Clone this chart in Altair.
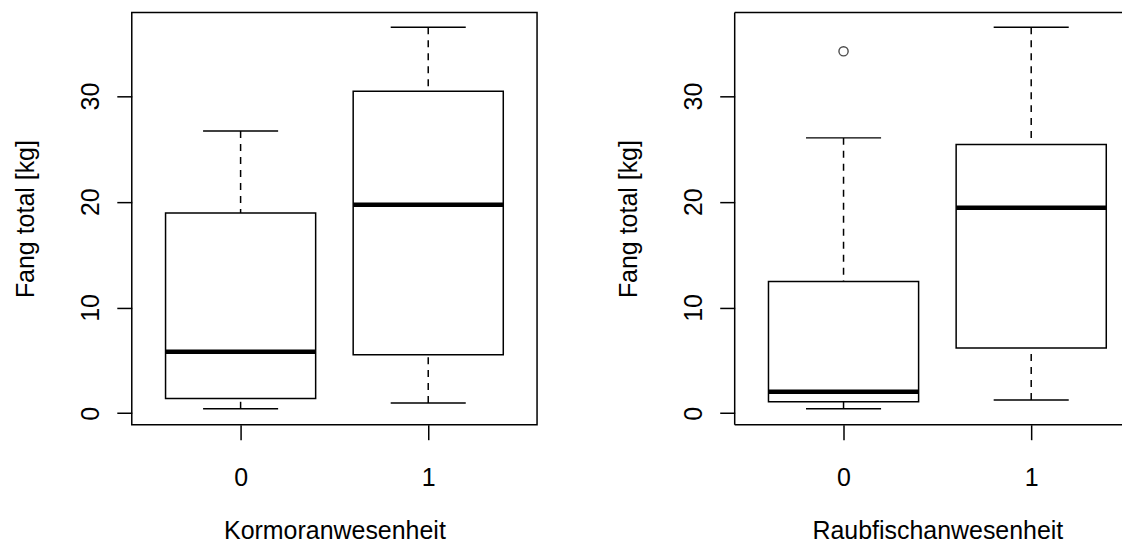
import altair as alt
import pandas as pd

# ---- data ----
groups = ["0", "1"]
y_ticks = [0, 10, 20, 30]

k_title = "Kormoranwesenheit"
k_low = [0.42, 0.96]
k_q1 = [1.40, 5.52]
k_med = [5.81, 19.72]
k_q3 = [18.93, 30.45]
k_high = [26.68, 36.50]
k_out_group = []
k_out_value = []

r_title = "Raubfischanwesenheit"
r_low = [0.42, 1.25]
r_q1 = [1.09, 6.16]
r_med = [2.03, 19.43]
r_q3 = [12.46, 25.42]
r_high = [26.04, 36.50]
r_out_group = ["0"]
r_out_value = [34.23]

y_label = "Fang total [kg]"

FONT = "Liberation Sans"
FS = 25
LW = 1.5
H = 413
pos = [i + 1 for i in range(len(groups))]
label_expr = " : ".join(
    f"datum.value == {p} ? '{g}'" for p, g in zip(pos, groups)
) + " : ''"


def panel(title, low, q1, med, q3, high, out_g, out_v, width, xmax, full_frame):
    df = pd.DataFrame({
        "pos": pos, "low": low, "q1": q1, "med": med, "q3": q3, "high": high,
    })
    df["left"] = df["pos"] - 0.4
    df["right"] = df["pos"] + 0.4
    df["cl"] = df["pos"] - 0.2
    df["cr"] = df["pos"] + 0.2

    xs = alt.Scale(domain=[0.42, xmax], nice=False, zero=False)
    ys = alt.Scale(domain=[-1.09, 37.9], nice=False, zero=False)
    xa = alt.Axis(values=pos, labelExpr=label_expr, title=title, tickSize=15,
                  labelAngle=0, labelBaseline="alphabetic", labelPadding=45.7,
                  titleBaseline="alphabetic", titleY=114, titleX=203,
                  titleAlign="center", grid=False, domain=False,
                  labelFont=FONT, titleFont=FONT, labelFontSize=FS,
                  titleFontSize=FS, titleFontWeight="normal",
                  labelColor="black", titleColor="black", tickColor="black",
                  tickWidth=LW)
    ya = alt.Axis(values=y_ticks, title=y_label, tickSize=15, labelAngle=270,
                  labelAlign="center", labelBaseline="alphabetic", labelPadding=18,
                  titleAngle=270, titleAlign="center", titleBaseline="alphabetic",
                  titleX=-98, titleY=206.5, grid=False, domain=False,
                  labelFont=FONT, titleFont=FONT, labelFontSize=FS,
                  titleFontSize=FS, titleFontWeight="normal",
                  labelColor="black", titleColor="black", tickColor="black",
                  tickWidth=LW)

    def X(f):
        return alt.X(f"{f}:Q", scale=xs, axis=xa)

    def Y(f):
        return alt.Y(f"{f}:Q", scale=ys, axis=ya)

    base = alt.Chart(df)
    wh = base.mark_rule(strokeDash=[7, 6], strokeWidth=LW, color="black").encode(
        x=X("pos"), y=Y("high"), y2="q3")
    wl = base.mark_rule(strokeDash=[7, 6], strokeWidth=LW, color="black").encode(
        x=X("pos"), y=Y("low"), y2="q1")
    ch = base.mark_rule(strokeWidth=LW, color="black").encode(
        x=X("cl"), x2="cr", y=Y("high"))
    cl = base.mark_rule(strokeWidth=LW, color="black").encode(
        x=X("cl"), x2="cr", y=Y("low"))
    box = base.mark_rect(fill="white", stroke="black", strokeWidth=LW).encode(
        x=X("left"), x2="right", y=Y("q1"), y2="q3")
    md = base.mark_rule(strokeWidth=4.5, color="black").encode(
        x=X("left"), x2="right", y=Y("med"))
    layers = [wh, wl, ch, cl, box, md]
    if out_v:
        odf = pd.DataFrame({"pos": [pos[groups.index(g)] for g in out_g],
                            "val": out_v})
        pts = alt.Chart(odf).mark_point(shape="circle", filled=False, size=85,
                                        strokeWidth=1.4, color="black").encode(
            x=X("pos"), y=Y("val"))
        layers.append(pts)
    if full_frame:
        view = alt.ViewBackground(stroke="black", strokeWidth=LW)
    else:
        # plot frame whose right side lies beyond the picture's edge
        one = alt.Chart(pd.DataFrame({"k": [0]}))
        fr = dict(strokeWidth=LW, color="black")
        layers += [
            one.mark_rule(**fr).encode(x=alt.value(0), x2=alt.value(width),
                                       y=alt.value(0)),
            one.mark_rule(**fr).encode(x=alt.value(0), x2=alt.value(width),
                                       y=alt.value(H)),
            one.mark_rule(**fr).encode(x=alt.value(0), y=alt.value(0),
                                       y2=alt.value(H)),
        ]
        view = alt.ViewBackground(stroke=None)
    return alt.layer(*layers).properties(width=width, height=H, view=view)


left = panel(k_title, k_low, k_q1, k_med, k_q3, k_high, k_out_group, k_out_value,
             406, 2.58, True)
right = panel(r_title, r_low, r_q1, r_med, r_q3, r_high, r_out_group, r_out_value,
              388, 0.42 + 388 / 188.0, False)

chart = alt.hconcat(left, right, spacing=198, bounds="flush").properties(
    padding={"left": 5, "top": 3, "right": 0, "bottom": 0},
    background="white",
)

chart.save("out.html", embed_options={"renderer": "svg", "actions": False})
